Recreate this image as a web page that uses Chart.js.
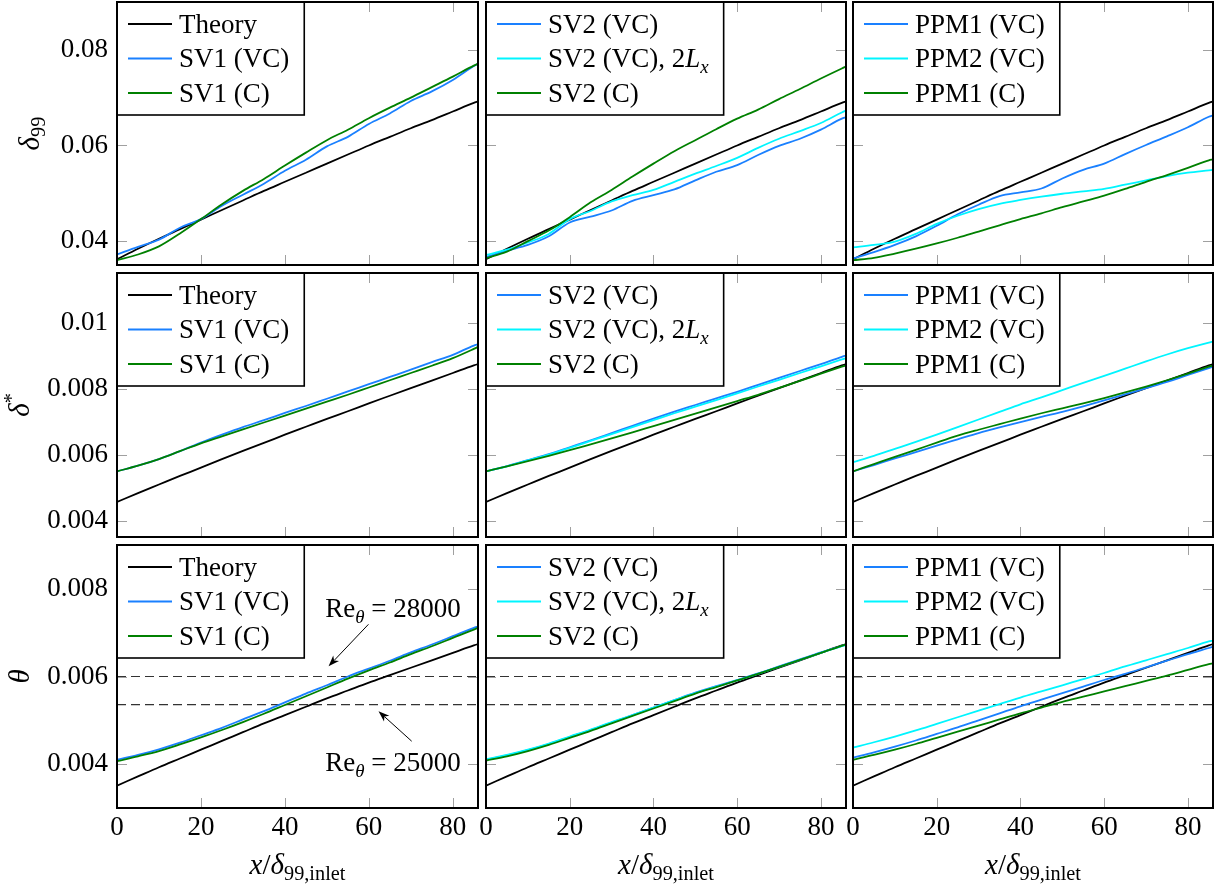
<!DOCTYPE html>
<html>
<head>
<meta charset="utf-8">
<script src="https://cdn.jsdelivr.net/npm/chart.js@4.4.0/dist/chart.umd.min.js"></script>
<style>
  body { margin: 0; background: #fff; }
  #wrap { position: relative; width: 1221px; height: 890px; }
  #wrap canvas { position: absolute; left: 0; top: 0; }
</style>
</head>
<body>
<div id="wrap"></div>
<script>
// x stations (x / delta99,inlet)
const xs = [0, 5, 10, 15, 20, 25, 30, 35, 40, 45, 50, 55, 60, 65, 70, 75, 80, 85, 86];
const xTicks = [0, 20, 40, 60, 80];
const yTicksD99 = [0.04, 0.06, 0.08];
const yTicksDstar = [0.004, 0.006, 0.008, 0.01];
const yTicksTheta = [0.004, 0.006, 0.008];
const reThetaLevels = [0.006, 0.005357];   // Re_theta = 28000, 25000
const reThetaLabels = ["28000", "25000"];

// delta99
const theoryD99   = [0.0362,0.0384,0.0405,0.0425,0.0445,0.0465,0.0485,0.0505,0.0524,0.0543,0.0562,0.0581,0.0600,0.0618,0.0636,0.0653,0.0671,0.0689,0.0692];
const sv1vcD99    = [0.0372,0.0388,0.0403,0.0428,0.0446,0.0474,0.0497,0.0520,0.0547,0.0570,0.0598,0.0618,0.0645,0.0667,0.0693,0.0713,0.0737,0.0766,0.0771];
const sv1cD99     = [0.0360,0.0372,0.0389,0.0416,0.0446,0.0477,0.0505,0.0530,0.0558,0.0585,0.0611,0.0633,0.0657,0.0679,0.0700,0.0722,0.0744,0.0767,0.0771];
const sv2vcD99    = [0.0367,0.0380,0.0392,0.0410,0.0439,0.0451,0.0464,0.0484,0.0496,0.0508,0.0527,0.0545,0.0559,0.0580,0.0599,0.0614,0.0633,0.0656,0.0659];
const sv2vc2LxD99 = [0.0371,0.0382,0.0397,0.0415,0.0446,0.0463,0.0483,0.0496,0.0507,0.0524,0.0541,0.0557,0.0574,0.0595,0.0614,0.0630,0.0647,0.0669,0.0673];
const sv2cD99     = [0.0364,0.0378,0.0400,0.0422,0.0450,0.0481,0.0507,0.0535,0.0562,0.0588,0.0611,0.0634,0.0656,0.0675,0.0697,0.0718,0.0740,0.0761,0.0765];
const ppm1vcD99   = [0.0364,0.0377,0.0392,0.0410,0.0432,0.0456,0.0476,0.0494,0.0502,0.0510,0.0531,0.0549,0.0562,0.0582,0.0601,0.0619,0.0638,0.0660,0.0663];
const ppm2vcD99   = [0.0387,0.0392,0.0399,0.0415,0.0436,0.0453,0.0467,0.0478,0.0486,0.0493,0.0499,0.0504,0.0509,0.0518,0.0527,0.0536,0.0543,0.0548,0.0549];
const ppm1cD99    = [0.0360,0.0365,0.0374,0.0384,0.0395,0.0407,0.0420,0.0433,0.0446,0.0458,0.0471,0.0483,0.0495,0.0509,0.0524,0.0538,0.0553,0.0569,0.0571];

// delta*
const theoryDstar   = [0.00456,0.00483,0.00509,0.00535,0.00560,0.00586,0.00611,0.00635,0.00660,0.00684,0.00708,0.00731,0.00755,0.00778,0.00801,0.00824,0.00847,0.00870,0.00874];
const sv1vcDstar    = [0.00549,0.00566,0.00586,0.00610,0.00636,0.00660,0.00683,0.00704,0.00726,0.00747,0.00769,0.00791,0.00813,0.00835,0.00857,0.00880,0.00902,0.00930,0.00934];
const sv1cDstar     = [0.00549,0.00566,0.00586,0.00610,0.00634,0.00655,0.00676,0.00697,0.00718,0.00739,0.00760,0.00781,0.00803,0.00825,0.00847,0.00869,0.00892,0.00920,0.00926];
const sv2vcDstar    = [0.00549,0.00565,0.00583,0.00601,0.00622,0.00643,0.00665,0.00687,0.00709,0.00730,0.00750,0.00770,0.00790,0.00811,0.00832,0.00853,0.00874,0.00896,0.00900];
const sv2vc2LxDstar = [0.00549,0.00564,0.00582,0.00600,0.00620,0.00641,0.00662,0.00683,0.00704,0.00725,0.00745,0.00765,0.00785,0.00806,0.00826,0.00847,0.00867,0.00888,0.00892];
const sv2cDstar     = [0.00549,0.00564,0.00580,0.00596,0.00613,0.00631,0.00649,0.00667,0.00686,0.00705,0.00724,0.00743,0.00762,0.00781,0.00802,0.00823,0.00845,0.00866,0.00870];
const ppm1vcDstar   = [0.00549,0.00568,0.00588,0.00607,0.00627,0.00646,0.00665,0.00682,0.00698,0.00714,0.00729,0.00746,0.00764,0.00782,0.00801,0.00820,0.00841,0.00862,0.00866];
const ppm2vcDstar   = [0.00577,0.00596,0.00617,0.00638,0.00660,0.00683,0.00706,0.00729,0.00752,0.00773,0.00795,0.00817,0.00838,0.00860,0.00882,0.00903,0.00922,0.00939,0.00942];
const ppm1cDstar    = [0.00549,0.00571,0.00593,0.00614,0.00636,0.00657,0.00675,0.00692,0.00709,0.00725,0.00740,0.00755,0.00771,0.00788,0.00806,0.00825,0.00845,0.00866,0.00870];

// theta
const theoryTheta   = [0.00351,0.00372,0.00393,0.00413,0.00433,0.00453,0.00473,0.00493,0.00512,0.00531,0.00550,0.00568,0.00586,0.00603,0.00620,0.00637,0.00654,0.00671,0.00674];
const sv1vcTheta    = [0.00410,0.00421,0.00434,0.00449,0.00466,0.00483,0.00502,0.00521,0.00541,0.00561,0.00580,0.00600,0.00618,0.00636,0.00655,0.00673,0.00692,0.00711,0.00714];
const sv1cTheta     = [0.00407,0.00418,0.00430,0.00445,0.00461,0.00478,0.00496,0.00515,0.00535,0.00555,0.00575,0.00595,0.00614,0.00632,0.00651,0.00669,0.00688,0.00707,0.00711];
const sv2vcTheta    = [0.00410,0.00420,0.00432,0.00446,0.00462,0.00478,0.00495,0.00512,0.00529,0.00546,0.00563,0.00578,0.00592,0.00607,0.00623,0.00639,0.00655,0.00670,0.00673];
const sv2vc2LxTheta = [0.00411,0.00421,0.00433,0.00447,0.00463,0.00479,0.00496,0.00512,0.00529,0.00546,0.00562,0.00577,0.00591,0.00606,0.00622,0.00638,0.00654,0.00669,0.00672];
const sv2cTheta     = [0.00408,0.00418,0.00430,0.00444,0.00460,0.00476,0.00493,0.00510,0.00527,0.00544,0.00561,0.00576,0.00591,0.00606,0.00622,0.00638,0.00654,0.00670,0.00673];
const ppm1vcTheta   = [0.00415,0.00427,0.00440,0.00454,0.00469,0.00484,0.00500,0.00516,0.00532,0.00547,0.00562,0.00577,0.00592,0.00606,0.00621,0.00636,0.00651,0.00665,0.00668];
const ppm2vcTheta   = [0.00438,0.00450,0.00463,0.00477,0.00492,0.00507,0.00522,0.00537,0.00552,0.00566,0.00580,0.00594,0.00608,0.00623,0.00637,0.00651,0.00665,0.00680,0.00682];
const ppm1cTheta    = [0.00410,0.00421,0.00433,0.00446,0.00460,0.00474,0.00488,0.00502,0.00516,0.00529,0.00542,0.00554,0.00566,0.00578,0.00590,0.00602,0.00615,0.00628,0.00630];

// layout
const W = 1221, H = 890;
const cols = [[117, 478], [486, 846], [853, 1213]];
const rows = [[2, 265], [273, 537], [545, 808]];
const yRanges = [[0.035, 0.09], [0.0035, 0.0115], [0.003, 0.009]];
const yTickSets = [yTicksD99, yTicksDstar, yTicksTheta];
const FONT = '"Liberation Serif", "Times New Roman", serif';
const FS = 27;      // ticks, legend
const TS = 29;      // axis titles
const TICK = 10;
const LW = 1.8;
const BLACK = "#000000", BLUE = "#1a80ff", CYAN = "#00f5ff", GREEN = "#008000";

const panelSeries = [
  [
    [["Theory", theoryD99, BLACK], ["SV1 (VC)", sv1vcD99, BLUE], ["SV1 (C)", sv1cD99, GREEN]],
    [[null, theoryD99, BLACK], ["SV2 (VC)", sv2vcD99, BLUE], ["SV2 (VC), 2$L_x$", sv2vc2LxD99, CYAN], ["SV2 (C)", sv2cD99, GREEN]],
    [[null, theoryD99, BLACK], ["PPM1 (VC)", ppm1vcD99, BLUE], ["PPM2 (VC)", ppm2vcD99, CYAN], ["PPM1 (C)", ppm1cD99, GREEN]]
  ],
  [
    [["Theory", theoryDstar, BLACK], ["SV1 (VC)", sv1vcDstar, BLUE], ["SV1 (C)", sv1cDstar, GREEN]],
    [[null, theoryDstar, BLACK], ["SV2 (VC)", sv2vcDstar, BLUE], ["SV2 (VC), 2$L_x$", sv2vc2LxDstar, CYAN], ["SV2 (C)", sv2cDstar, GREEN]],
    [[null, theoryDstar, BLACK], ["PPM1 (VC)", ppm1vcDstar, BLUE], ["PPM2 (VC)", ppm2vcDstar, CYAN], ["PPM1 (C)", ppm1cDstar, GREEN]]
  ],
  [
    [["Theory", theoryTheta, BLACK], ["SV1 (VC)", sv1vcTheta, BLUE], ["SV1 (C)", sv1cTheta, GREEN]],
    [[null, theoryTheta, BLACK], ["SV2 (VC)", sv2vcTheta, BLUE], ["SV2 (VC), 2$L_x$", sv2vc2LxTheta, CYAN], ["SV2 (C)", sv2cTheta, GREEN]],
    [[null, theoryTheta, BLACK], ["PPM1 (VC)", ppm1vcTheta, BLUE], ["PPM2 (VC)", ppm2vcTheta, CYAN], ["PPM1 (C)", ppm1cTheta, GREEN]]
  ]
];

// axis titles and annotations (rich text segments)
const yTitles = [
  [{ t: "δ", it: 1 }, { t: "99", sub: 1 }],
  [{ t: "δ", it: 1 }, { t: "*", sup: 1 }],
  [{ t: "θ", it: 1 }]
];
const yTitleBaseX = [39, 29, 29];
const xTitle = [{ t: "x", it: 1 }, { t: "/" }, { t: "δ", it: 1 }, { t: "99,inlet", sub: 1 }];
const reTextAt = [[81.9, 0.007349], [81.9, 0.00384]];
const reArrows = [[[59.9, 0.00719], [50.4, 0.006232]], [[70.2, 0.004524], [62.3, 0.005207]]];

// --- rich text helpers
function parseRich(s) {
  const segs = [];
  let math = false;
  for (let i = 0; i < s.length; i++) {
    const ch = s[i];
    if (ch === "$") { math = !math; continue; }
    let sg;
    if (math && ch === "_") { const n = s[++i]; sg = { t: n, it: /[a-z]/i.test(n) ? 1 : 0, sub: 1 }; }
    else sg = { t: ch, it: math && /[a-z]/i.test(ch) ? 1 : 0 };
    const last = segs[segs.length - 1];
    if (last && last.it === sg.it && !last.sub && !sg.sub) last.t += sg.t;
    else segs.push(sg);
  }
  return segs;
}
function segFont(sg, size) {
  const sz = (sg.sub || sg.sup) ? size * 0.7 : size;
  return (sg.it ? "italic " : "") + sz + "px " + FONT;
}
function richWidth(ctx, segs, size) {
  let w = 0;
  segs.forEach(sg => { ctx.font = segFont(sg, size); w += ctx.measureText(sg.t).width; });
  return w;
}
function drawRich(ctx, segs, x, y, size, align) {
  const w = richWidth(ctx, segs, size);
  let cx = align === "center" ? x - w / 2 : align === "right" ? x - w : x;
  ctx.textAlign = "left";
  ctx.textBaseline = "alphabetic";
  ctx.fillStyle = "#000";
  segs.forEach(sg => {
    ctx.font = segFont(sg, size);
    const dy = sg.sub ? size * 0.22 : sg.sup ? -size * 0.38 : 0;
    ctx.fillText(sg.t, cx, y + dy);
    cx += ctx.measureText(sg.t).width;
  });
}

function makeDeco(r, c) {
  return {
    id: "deco",
    beforeDatasetsDraw(chart) {
      const { ctx, chartArea: a, scales: { x, y } } = chart;
      ctx.save();
      ctx.strokeStyle = "#a0a0a0";
      ctx.lineWidth = 1;
      ctx.beginPath();
      x.ticks.forEach(t => {
        const px = Math.round(x.getPixelForValue(t.value)) + 0.5;
        ctx.moveTo(px, a.bottom); ctx.lineTo(px, a.bottom - TICK);
        ctx.moveTo(px, a.top); ctx.lineTo(px, a.top + TICK);
      });
      y.ticks.forEach(t => {
        const py = Math.round(y.getPixelForValue(t.value)) + 0.5;
        ctx.moveTo(a.left, py); ctx.lineTo(a.left + TICK, py);
        ctx.moveTo(a.right, py); ctx.lineTo(a.right - TICK, py);
      });
      ctx.stroke();
      ctx.restore();
    },
    afterDatasetsDraw(chart) {
      const { ctx, chartArea: a, scales: { x, y } } = chart;
      ctx.save();
      // boxed legend, top left
      const items = chart.data.datasets.filter(d => d.legendLabel);
      const segsList = items.map(d => parseRich(d.legendLabel));
      const tw = Math.max(...segsList.map(s => richWidth(ctx, s, FS)));
      const bx = a.left, by = a.top, bw = 62 + tw + 15, bh = 113;
      ctx.fillStyle = "#fff";
      ctx.fillRect(bx, by, bw, bh);
      ctx.strokeStyle = "#000";
      ctx.lineWidth = 1.6;
      ctx.strokeRect(bx, by, bw, bh);
      items.forEach((d, i) => {
        const ly = by + 22 + i * 34.5;
        ctx.strokeStyle = d.borderColor;
        ctx.lineWidth = LW;
        ctx.beginPath(); ctx.moveTo(bx + 11, ly); ctx.lineTo(bx + 55, ly); ctx.stroke();
        drawRich(ctx, segsList[i], bx + 62, ly + 8.5, FS, "left");
      });
      // Re_theta annotations
      if (r === 2 && c === 0) {
        reThetaLabels.forEach((lab, i) => {
          const segs = [{ t: "Re" }, { t: "θ", it: 1, sub: 1 }, { t: " = " + lab }];
          drawRich(ctx, segs, x.getPixelForValue(reTextAt[i][0]), y.getPixelForValue(reTextAt[i][1]), FS, "right");
          const [p0, p1] = reArrows[i];
          const x0 = x.getPixelForValue(p0[0]), y0 = y.getPixelForValue(p0[1]);
          const x1 = x.getPixelForValue(p1[0]), y1 = y.getPixelForValue(p1[1]);
          const ang = Math.atan2(y1 - y0, x1 - x0);
          ctx.strokeStyle = "#000"; ctx.fillStyle = "#000"; ctx.lineWidth = 1;
          ctx.beginPath(); ctx.moveTo(x0, y0);
          ctx.lineTo(x1 - 8 * Math.cos(ang), y1 - 8 * Math.sin(ang)); ctx.stroke();
          ctx.beginPath();
          ctx.moveTo(x1, y1);
          ctx.lineTo(x1 - 11 * Math.cos(ang) + 4 * Math.sin(ang), y1 - 11 * Math.sin(ang) - 4 * Math.cos(ang));
          ctx.lineTo(x1 - 8 * Math.cos(ang), y1 - 8 * Math.sin(ang));
          ctx.lineTo(x1 - 11 * Math.cos(ang) - 4 * Math.sin(ang), y1 - 11 * Math.sin(ang) + 4 * Math.cos(ang));
          ctx.closePath(); ctx.fill();
        });
      }
      ctx.restore();
    },
    afterDraw(chart) {
      const { ctx, chartArea: a } = chart;
      ctx.save();
      ctx.strokeStyle = "#000";
      ctx.lineWidth = 2;
      ctx.strokeRect(a.left, a.top, a.right - a.left, a.bottom - a.top);
      if (c === 0) {
        ctx.translate(yTitleBaseX[r], (a.top + a.bottom) / 2);
        ctx.rotate(-Math.PI / 2);
        drawRich(ctx, yTitles[r], 0, 0, TS, "center");
        ctx.setTransform(1, 0, 0, 1, 0, 0);
      }
      if (r === 2) drawRich(ctx, xTitle, (a.left + a.right) / 2, 874, TS, "center");
      ctx.restore();
    }
  };
}

function noScalePadding(s) {
  s.paddingTop = 0; s.paddingBottom = 0; s.paddingLeft = 0; s.paddingRight = 0;
}

const wrap = document.getElementById("wrap");
rows.forEach((rw, r) => {
  cols.forEach((cl, c) => {
    const canvas = document.createElement("canvas");
    canvas.width = W; canvas.height = H;
    wrap.appendChild(canvas);
    const series = panelSeries[r][c];
    const n = series.length;
    const datasets = series.map(([label, vals, color], i) => ({
      label: label || "Theory",
      legendLabel: label,
      data: xs.map((x, k) => ({ x, y: vals[k] })),
      borderColor: color,
      borderWidth: LW,
      pointRadius: 0,
      fill: false,
      cubicInterpolationMode: "monotone",
      order: n - i
    }));
    if (r === 2) {
      reThetaLevels.forEach(v => datasets.push({
        label: "Re",
        data: [{ x: 0, y: v }, { x: 86, y: v }],
        borderColor: "#333",
        borderWidth: 1.2,
        borderDash: [9, 5],
        pointRadius: 0,
        fill: false,
        order: 100
      }));
    }
    const tickFont = { family: FONT, size: FS };
    const yW = c === 0 ? cl[0] : 0;          // room for y tick labels
    const xH = r === 2 ? H - rw[1] : 0;       // room for x tick labels
    new Chart(canvas, {
      type: "line",
      data: { datasets },
      options: {
        responsive: false,
        animation: false,
        devicePixelRatio: 1,
        layout: { padding: { left: cl[0] - yW, top: rw[0], right: W - cl[1], bottom: H - rw[1] - xH } },
        plugins: { legend: { display: false }, tooltip: { enabled: false } },
        scales: {
          x: {
            type: "linear", min: 0, max: 86,
            afterBuildTicks: s => { s.ticks = xTicks.map(v => ({ value: v })); },
            afterFit: s => { s.height = xH; noScalePadding(s); },
            grid: { display: false, drawTicks: false },
            border: { display: false },
            ticks: { display: r === 2, font: tickFont, color: "#000", padding: 4, maxRotation: 0, autoSkip: false, callback: v => String(v) }
          },
          y: {
            type: "linear", min: yRanges[r][0], max: yRanges[r][1],
            afterBuildTicks: s => { s.ticks = yTickSets[r].map(v => ({ value: v })); },
            afterFit: s => { s.width = yW; noScalePadding(s); },
            grid: { display: false, drawTicks: false },
            border: { display: false },
            ticks: { display: c === 0, font: tickFont, color: "#000", padding: 9, autoSkip: false, callback: v => String(v) }
          }
        }
      },
      plugins: [makeDeco(r, c)]
    });
  });
});
</script>
</body>
</html>
